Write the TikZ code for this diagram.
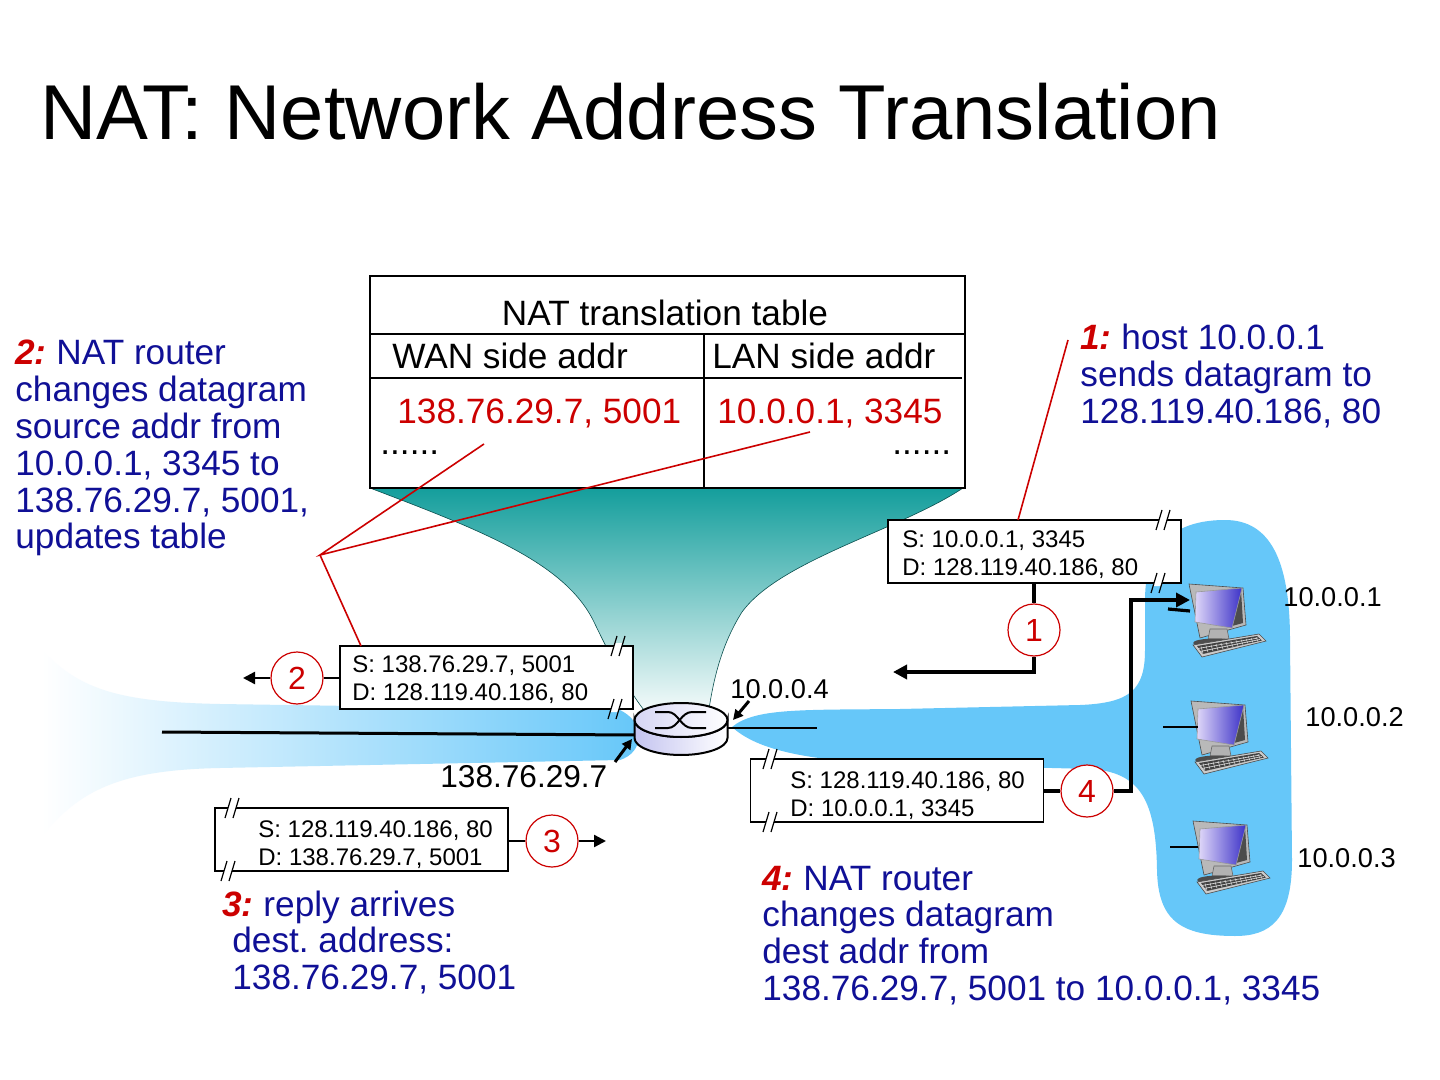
\documentclass[tikz,border=0pt]{standalone}
\usepackage{fontspec}
\setmainfont{Liberation Sans}
\usetikzlibrary{arrows.meta,shapes.geometric}
\definecolor{navy}{RGB}{16,16,150}
\definecolor{nred}{RGB}{204,0,0}
\definecolor{lanblue}{RGB}{102,199,249}
\definecolor{teal1}{RGB}{20,158,156}
\definecolor{lav}{RGB}{222,214,248}
\definecolor{scrblue}{RGB}{60,50,200}
\definecolor{rtrlav}{RGB}{196,196,240}
\newcommand\fbody{\fontsize{17.6}{18.4}\selectfont}
\newcommand\fpkt{\fontsize{12}{14}\selectfont}
\newcommand\fip{\fontsize{13.6}{16}\selectfont}
\newcommand\mlines[1]{\begin{tabular}[t]{@{}l@{}}#1\end{tabular}}
\newcommand\rnum[1]{\textcolor{nred}{\textbf{\textit{#1}}}}
\frenchspacing
\tikzset{
  conn/.style={line width=2pt},
  connthin/.style={line width=1.2pt},
  redline/.style={draw=nred, line width=0.8pt},
  pkt/.style={rectangle, draw, fill=white, line width=0.9pt, inner sep=0pt, outer sep=0pt, minimum width=146.5pt, minimum height=31.5pt},
  num/.style={circle, draw=nred, line width=0.6pt, fill=white, minimum size=26pt, inner sep=0pt, text=nred, font=\fontsize{16}{18}\selectfont},
  txt/.style={inner sep=0pt, anchor=base west},
  brk/.pic={
    \fill[white] (-4.9,3) -- (3.1,3) -- (4.9,-3) -- (-3.1,-3) -- cycle;
    \draw[line width=0.6pt] (-7,10) -- (-1,-10);
    \draw[line width=0.6pt] (1,10) -- (7,-10);
  },
  computer/.pic={
    \fill[gray!55, draw=black!70, line width=0.3pt] (1,1) -- (55,5) -- (58,42) -- (12,55) -- cycle;
    \fill[black!70] (42,9) -- (53,7) -- (55,40) -- (44,43) -- cycle;
    \shade[left color=lav, right color=scrblue, draw=black!40, line width=0.3pt] (8,9) -- (54,5) -- (44,45) -- (7,39) -- cycle;
    \fill[gray!60, draw=black!60, line width=0.3pt] (22,46) -- (39,46) -- (41,56) -- (20,56) -- cycle;
    \fill[black!70] (27,60) ellipse[x radius=22, y radius=4.5];
    \fill[gray!40, draw=black!70, line width=0.3pt] (5,62) -- (71,51) -- (78,58) -- (14,74) -- cycle;
    \fill[black!75] (9,63) -- (69,53) -- (74,57.5) -- (15,71) -- cycle;
    \draw[gray!35, line width=0.35pt] (10,65.5) -- (70,55) (12,68.5) -- (72,56.5);
    \foreach \k in {0,...,11}{\draw[gray!35, line width=0.3pt] (13+5*\k,63.5-0.85*\k) -- (15+5*\k,70.5-1.1*\k);}
  }
}
\begin{document}
\begin{tikzpicture}[x=0.5pt,y=-0.5pt]
\useasboundingbox (0,0) rectangle (1440,1080);
\fill[white] (0,0) rectangle (1440,1080);

% title
\node[txt, font=\fontsize{38.9}{40}\selectfont] (title) at (40,140) {NAT: Network Address Translation};

% WAN side trumpet
\shade[left color=white, right color=lanblue] (42,650) .. controls (80,690) and (120,702) .. (220,704) -- (620,710) .. controls (632,716) and (638,725) .. (640,735) .. controls (638,748) and (632,756) .. (620,760) -- (220,768) .. controls (120,770) and (80,790) .. (42,836) -- cycle;

% LAN side blob
\fill[lanblue] (732,727) .. controls (755,708) and (800,710) .. (900,709) -- (1080,705) .. controls (1130,703) and (1145,690) .. (1145,650) -- (1145,600) .. controls (1145,540) and (1180,520) .. (1225,520) .. controls (1270,520) and (1290,560) .. (1290,640) -- (1292,860) .. controls (1292,920) and (1270,936) .. (1235,936) .. controls (1180,936) and (1158,920) .. (1157,870) .. controls (1156,800) and (1140,772) .. (1090,769) -- (900,764) .. controls (800,761) and (755,748) .. (732,727) -- cycle;

% funnel
\shade[top color=teal1, middle color=teal1!55, bottom color=teal1!3] (370,488) .. controls (480,530) and (565,562) .. (594,622) .. controls (618,672) and (635,700) .. (648,715) -- (708,715) .. controls (712,690) and (718,650) .. (742,612) .. controls (780,560) and (900,530) .. (963,488) -- cycle;
\draw[teal1!50!black, line width=0.3pt] (370,488) .. controls (480,530) and (565,562) .. (594,622) .. controls (618,672) and (635,700) .. (648,715);
\draw[teal1!50!black, line width=0.3pt] (708,715) .. controls (712,690) and (718,650) .. (742,612) .. controls (780,560) and (900,530) .. (963,488);

% NAT table
\node[rectangle, draw, fill=white, line width=0.9pt, inner sep=0pt, minimum width=297.5pt, minimum height=106pt] (tab) at (667.5,382) {};
\draw[line width=0.9pt] (370,334) -- (965,334);
\draw[line width=0.6pt] (370,378) -- (962,378);
\draw[line width=0.6pt] (704,334) -- (704,488);
\node[inner sep=0pt, anchor=base, font=\fbody] (tabtitle) at (665,326) {NAT translation table};
\node[txt, font=\fbody] (wanh) at (392,369) {WAN side addr};
\node[txt, font=\fbody] (lanh) at (712,369) {LAN side addr};
\node[txt, font=\fbody, text=nred] (wanv) at (397,423) {138.76.29.7, 5001};
\node[txt, font=\fbody, text=nred] (lanv) at (717,423) {10.0.0.1, 3345};
\node[txt, font=\fbody] (dots1) at (380,455) {......};
\node[txt, font=\fbody] (dots2) at (892,455) {......};

% links
\draw[line width=1.5pt] (162,732) -- (635,735);
\draw[line width=0.8pt] (728,728) -- (817,728);

% router
\path[shade, left color=rtrlav, right color=white, draw=black, line width=1pt]
  (634.5,720) -- (634.5,738) arc[start angle=180, end angle=0, x radius=46.5, y radius=17] -- (727.5,720) arc[start angle=0, end angle=180, x radius=46.5, y radius=17] -- cycle;
\path[shade, left color=rtrlav!70, right color=white, draw=black, line width=1pt] (681,720) ellipse[x radius=46.5, y radius=17];
\node[inner sep=0pt, minimum width=46.5pt, minimum height=34pt] (router) at (681,729) {};
\draw[line width=1pt] (655,712) -- (668,712) .. controls (678,712) and (681,728) .. (692,728) -- (706,728);
\draw[line width=1pt] (655,728) -- (668,728) .. controls (678,728) and (681,712) .. (692,712) -- (706,712);

% interface labels
\node[txt, font=\fip] (ip4) at (730,698) {10.0.0.4};
\node[txt, font=\fontsize{15.8}{18}\selectfont] (ipw) at (440,787) {138.76.29.7};
\draw[line width=1.5pt, -{Triangle[length=5pt,width=5pt]}] (749,701) -- (733,720);
\draw[line width=1.5pt, -{Triangle[length=5pt,width=5pt]}] (615,762) -- (632,739);

% computers
\pic at (1188,583) {computer};
\pic at (1190,700) {computer};
\pic at (1192,820) {computer};
\coordinate (comp1) at (1190,600);
\draw[line width=1.6pt] (1168,609) -- (1190,611);
\draw[line width=0.8pt] (1163,727) -- (1198,727);
\draw[line width=0.8pt] (1170,847) -- (1198,847);
\node[txt, font=\fip] (ip1) at (1283,606) {10.0.0.1};
\node[txt, font=\fip] (ip2) at (1305,726) {10.0.0.2};
\node[txt, font=\fip] (ip3) at (1297,867) {10.0.0.3};

% packets
\node[pkt] (p1) at (1034.5,551.5) {};
\node[txt, font=\fpkt] (p1t) at (902,547) {\mlines{S: 10.0.0.1, 3345\\D: 128.119.40.186, 80}};
\pic at (1163,520) {brk};
\pic at (1158,583) {brk};

\node[pkt] (p2) at (486.5,677.5) {};
\node[txt, font=\fpkt] (p2t) at (352,672) {\mlines{S: 138.76.29.7, 5001\\D: 128.119.40.186, 80}};
\pic at (618,646) {brk};
\pic at (615,709) {brk};

\node[pkt] (p3) at (361.5,839.5) {};
\node[txt, font=\fpkt] (p3t) at (258,837) {\mlines{S: 128.119.40.186, 80\\D: 138.76.29.7, 5001}};
\pic at (232,808) {brk};
\pic at (228,871) {brk};

\node[pkt] (p4) at (897,790.5) {};
\node[txt, font=\fpkt] (p4t) at (790,788) {\mlines{S: 128.119.40.186, 80\\D: 10.0.0.1, 3345}};
\pic at (770,759) {brk};
\pic at (770,822) {brk};

% step circles and routes
\node[num] (c1) at (1034,630) {1};
\node[num] (c2) at (297,678) {2};
\node[num] (c3) at (552,841) {3};
\node[num] (c4) at (1087,791) {4};
\coordinate (a1) at (893,672);
\coordinate (a2) at (243,678);
\coordinate (a3) at (606,841);
\coordinate (r4) at (1131,791);

\draw[conn] (p1.south -| c1) -- (c1.north);
\draw[conn, -{Triangle[length=7pt,width=7pt]}] (c1.south) |- (a1);
\draw[connthin] (p2.west |- c2) -- (c2.east);
\draw[connthin, -{Triangle[length=6pt,width=6pt]}] (c2.west) -- (a2);
\draw[connthin] (p3.east |- c3) -- (c3.west);
\draw[connthin, -{Triangle[length=6pt,width=6pt]}] (c3.east) -- (a3);
\draw[conn] (p4.east |- c4) -- (c4.west);
\draw[conn, -{Triangle[length=7pt,width=7pt]}] (c4.east) -- (r4) |- (comp1);

% explanation labels
\node[txt, font=\fbody, text=navy] (lab1) at (1080,350) {\mlines{\rnum{1:} host 10.0.0.1\\sends datagram to\\128.119.40.186, 80}};
\node[txt, font=\fbody, text=navy] (lab2) at (15,365) {\mlines{\rnum{2:} NAT router\\changes datagram\\source addr from\\10.0.0.1, 3345 to\\138.76.29.7, 5001,\\updates table}};
\node[txt, font=\fbody, text=navy] (lab3) at (222,916) {\mlines{\rnum{3:} reply arrives\\\hspace*{5pt}dest. address:\\\hspace*{5pt}138.76.29.7, 5001}};
\node[txt, font=\fbody, text=navy] (lab4) at (762,890) {\mlines{\rnum{4:} NAT router\\changes datagram\\dest addr from\\138.76.29.7, 5001 to 10.0.0.1, 3345}};

% red leader lines
\coordinate (l1) at (1068,340);
\coordinate (hub) at (320,555);
\coordinate (wanpt) at (484,444);
\coordinate (lanpt) at (810,432);
\draw[redline] (l1) -- ([xshift=65pt]p1.north west);
\draw[redline] (wanpt) -- (hub) -- (lanpt);
\draw[redline] (hub) -- ([xshift=10.5pt]p2.north west);
\end{tikzpicture}
\end{document}
